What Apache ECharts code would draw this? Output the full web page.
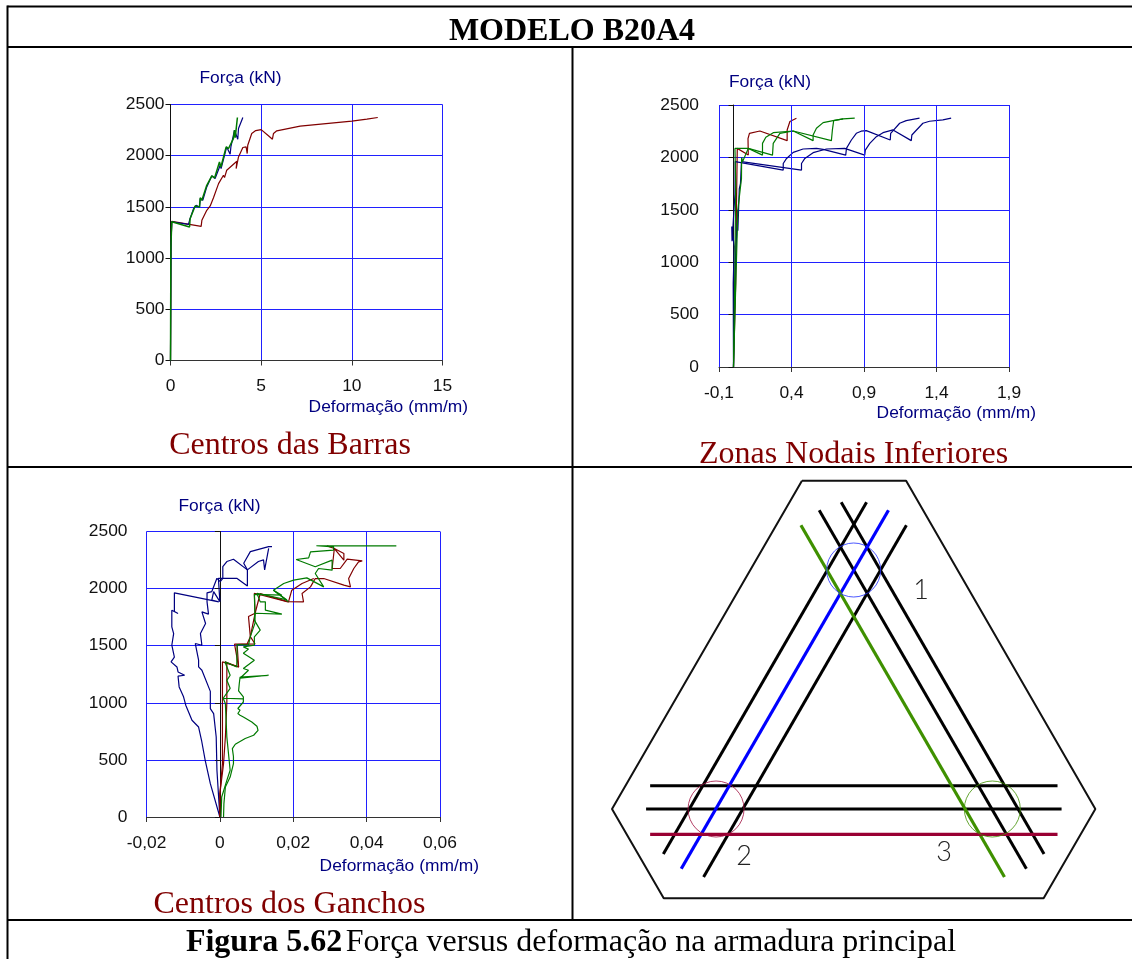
<!DOCTYPE html>
<html><head><meta charset="utf-8">
<style>html,body{margin:0;padding:0;background:#fff}#c{width:1132px;height:959px}</style>
<script src="https://cdn.jsdelivr.net/npm/echarts@6/dist/echarts.min.js"></script>
</head><body><div id="c"></div>
<script>
// Panel 1: Centros das Barras
const barrasRed=[[0,0],[.03,1150],[.07,1359],[1.69,1310],[1.73,1369],[2.0,1467],[2.19,1509],[2.28,1499],[2.37,1590],[2.41,1571],[2.65,1727],[2.92,1809],[2.98,1786],[3.1,1858],[3.66,1946],[3.62,1874],[3.75,1988],[3.99,2080],[4.17,2086],[4.23,2021],[4.26,2102],[4.48,2217],[4.7,2245],[5.0,2255],[5.4,2195],[5.62,2161],[5.68,2217],[5.86,2243],[7.15,2288],[10,2337],[10.83,2357],[11.43,2373]];
const barrasBlue=[[0,0],[.03,1150],[.07,1355],[.99,1330],[1.05,1369],[1.27,1483],[1.41,1516],[1.6,1499],[1.64,1581],[1.78,1565],[2.0,1695],[2.28,1803],[2.46,1777],[2.74,1907],[2.79,1874],[3.1,2086],[3.29,2014],[3.33,2086],[3.53,2249],[3.71,2161],[3.75,2265],[3.99,2373]];
const barrasGreen=[[0,0],[.02,1100],[.07,1355],[1.05,1304],[1.08,1385],[1.36,1509],[1.6,1499],[1.64,1590],[1.73,1565],[2.0,1711],[2.28,1803],[2.43,1783],[2.7,1939],[2.78,1890],[3.07,2086],[3.2,2070],[3.47,2167],[3.53,2249],[3.57,2177],[3.69,2373]];
// Panel 2: Zonas Nodais Inferiores
const nodaisRed=[[0,0],[.015,800],[.02,1500],[.026,2086],[.102,2022],[.1,2180],[.11,2230],[.182,2252],[.37,2160],[.37,2262],[.389,2342],[.434,2374]];
const nodaisGreenA=[[0,0],[.01,1000],[.015,1750],[.01,2086],[.102,2086],[.2,2022],[.2,2134],[.223,2192],[.274,2236],[.412,2252],[.549,2160],[.549,2214],[.572,2278],[.618,2332],[.687,2351],[.756,2368]];
const nodaisGreenB=[[0,0],[.02,1000],[.03,1500],[.055,1800],[.056,2000],[.063,1960],[.102,2086],[.269,2022],[.274,2134],[.32,2230],[.412,2252],[.675,2160],[.682,2262],[.691,2351],[.756,2368],[.836,2374]];
const nodaisBlueA=[[0,0],[-.002,800],[.005,1150],[-.012,1340],[-.01,1200],[.01,1650],[.012,1960],[.022,1958],[.343,1879],[.343,1942],[.366,1990],[.412,2048],[.48,2080],[.572,2086],[.618,2077],[.774,2022],[.779,2086],[.813,2166],[.847,2230],[.88,2250],[.916,2256],[1.081,2166],[1.084,2230],[1.146,2326],[1.191,2351],[1.283,2374]];
const nodaisBlueB=[[0,0],[.012,1000],[.03,1500],[.03,1300],[.04,1700],[.048,1750],[.055,1960],[.061,1958],[.469,1879],[.469,1942],[.492,1990],[.549,2045],[.641,2080],[.767,2086],[.905,2022],[.909,2070],[.94,2134],[.985,2198],[1.031,2236],[1.1,2262],[1.226,2160],[1.23,2214],[1.306,2326],[1.352,2345],[1.444,2358],[1.501,2374]];
// Panel 3: Centros dos Ganchos
const ganchosBlueA=[[0,0],[-.0026,292],[-.004,496],[-.005,672],[-.0058,788],[-.0076,847],[-.0093,979],[-.0099,1052],[-.0111,1139],[-.0114,1233],[-.0096,1241],[-.0114,1270],[-.0117,1314],[-.0133,1358],[-.0124,1400],[-.0131,1504],[-.0126,1606],[-.0131,1665],[-.0131,1811],[-.0114,1782],[-.0124,1800],[-.0124,1963],[-.0003,1884],[-.0022,1900],[-.0017,1974],[0,1886],[-.0004,2090],[.0046,2090],[.0075,2023],[.0075,2164],[.0065,2222],[.0083,2324],[.0133,2368],[.0142,2368]];
const ganchosBlueB=[[0,0],[-.0008,409],[-.001,701],[-.0017,905],[-.0026,949],[-.0026,1100],[-.003,1110],[-.0049,1285],[-.0058,1314],[-.0058,1373],[-.0067,1519],[-.0049,1504],[-.0053,1606],[-.0039,1694],[-.0049,1796],[-.0031,1776],[-.0035,1884],[-.0035,1963],[-.0022,1974],[-.0008,2090],[.0001,2061],[.0008,2090],[.0008,2193],[.0019,2237],[.0037,2257],[.0075,2164],[.0105,2237],[.0119,2251],[.0122,2164],[.0133,2353]];
const ganchosRedA=[[0,0],[0,204],[.001,467],[.0015,700],[.0019,1000],[.0019,1340],[.0014,1358],[.0051,1314],[.004,1513],[.0074,1513],[.0096,1515],[.0083,1579],[.0078,1755],[.0096,1784],[.0094,1959],[.0183,1886],[.0187,1884],[.0228,1884],[.0224,1957],[.0247,2015],[.026,2088],[.0283,2088],[.0338,2030],[.0356,2015],[.0351,2088],[.0365,2176],[.0378,2234],[.0388,2243],[.0347,2258],[.0328,2176],[.0306,2176],[.0312,2351],[.0338,2307],[.0338,2249],[.0312,2351],[.0292,2374]];
const ganchosRedB=[[0,0],[0,204],[.0007,467],[.0007,1358],[.0051,1314],[.0047,1510],[.0074,1513],[.0083,1579],[.0096,1784],[.011,1957],[.0187,1884],[.0196,1986],[.0224,2045],[.0256,2088]];
const ganchosGreenA=[[.001,0],[.0011,117],[.0015,263],[.0028,350],[.0037,467],[.0037,530],[.0034,599],[.0042,637],[.0069,687],[.0092,716],[.0104,759],[.0101,795],[.0087,832],[.0064,876],[.0055,891],[.0049,906],[.0055,935],[.0049,950],[.0064,1007],[.0064,1051],[.0051,1104],[.0053,1171],[.0055,1224],[.0133,1241],[.0055,1215],[.0078,1285],[.0064,1300],[.0094,1373],[.0064,1434],[.0078,1470],[.0064,1489],[.0094,1505],[.0094,1577],[.011,1636],[.0094,1724],[.0096,1784],[.0169,1776],[.0124,1811],[.0124,1884],[.011,1884],[.0101,1959],[.0183,1901],[.0146,1986],[.0151,2001],[.0174,2045],[.0201,2074],[.0237,2094],[.0283,2015],[.026,2132],[.0269,2176],[.0306,2161],[.0306,2249],[.026,2191],[.0208,2255],[.0242,2269],[.0247,2322],[.031,2337],[.031,2366],[.0263,2375],[.0481,2375]];
const ganchosGreenB=[[.0003,0],[.0005,175],[.0019,321],[.0028,409],[.0019,701],[.0015,993],[.0009,1040],[.0064,1035],[.0009,1040],[.0028,1127],[.0019,1197],[.0028,1241],[.0014,1358],[.0046,1314],[.0047,1510],[.0078,1506],[.0083,1579],[.0096,1700],[.0094,1950],[.0169,1942],[.0146,1986],[.0187,1884]];
// Panel 4: reinforcement layout (drawing units)
const outline=[[209,429.3],[311.7,429.3],[498.3,101],[447.3,11.7],[72.7,11.7],[21.7,101],[209,429.3]];
const blackBars=[[[272.7,407.7],[72.3,56]],[[312,384.7],[112,33]],[[247.7,407.7],[447.7,56]],[[226,399.7],[430.3,41.3]],[[59.3,124.3],[461,124.3]],[[55.3,101],[465,101]]];
const blueBar=[[294.3,399.7],[90,41.3]];
const greenBar=[[208,384.7],[408.7,33]];
const redBar=[[59.3,75.7],[461,75.7]];
const blueNode=[[260,340]], redNode=[[124.3,101]], greenNode=[[396.7,101]];
// Axis ticks
const yTicks=[0,500,1000,1500,2000,2500];
const xTicks1=[0,5,10,15];
const xTicks2=[-0.1,0.4,0.9,1.4,1.9];
const xTicks3=[-0.02,0,0.02,0.04,0.06];
// Labels
const labelY='Força (kN)', labelX='Deformação (mm/m)';
const panelTitles=['Centros das Barras','Zonas Nodais Inferiores','Centros dos Ganchos'];

const NAVY='#000080',MAROON='#800000',GREEN='#007a00',GRID='#2020ff',DARK='#800000';
const SANS='"Liberation Sans",Arial,sans-serif',SERIF='"Liberation Serif","Times New Roman",serif';
const FS=17.4;
const comma=v=>String(+v.toFixed(4)).replace('.',',');
function line(name,data,color,g,w){return {name,type:'line',xAxisIndex:g,yAxisIndex:g,data,showSymbol:false,symbol:'none',silent:true,animation:false,lineStyle:{color,width:w||1.2},z:3};}
function xAxis(g,min,max,interval,ticks,gap,pad,margin){
  const a={type:'value',gridIndex:g,min,max,name:labelX,nameLocation:'end',nameGap:gap,
    nameTextStyle:{color:NAVY,fontFamily:SANS,fontSize:FS,align:'right',verticalAlign:'top',padding:[pad,0,0,0]},
    axisLine:{onZero:false,lineStyle:{color:'#333',width:1}},axisTick:{length:5,lineStyle:{color:'#333'}},
    axisLabel:{color:'#111',fontFamily:SANS,fontSize:FS,margin,formatter:comma,showMinLabel:true,showMaxLabel:true},
    splitLine:{show:true,lineStyle:{color:GRID,width:1}}};
  if(interval){a.interval=interval;}else{
    a.interval=0.1;a.splitLine={show:false};
    a.axisLabel.customValues=ticks;a.axisTick.customValues=ticks;}
  return a;
}
function yAxisMain(g,pad,gap,margin,withLine){return {type:'value',gridIndex:g,min:0,max:2500,interval:500,position:'left',
  name:labelY,nameLocation:'end',nameGap:gap,
  nameTextStyle:{color:NAVY,fontFamily:SANS,fontSize:FS,align:'left',verticalAlign:'bottom',padding:[0,0,0,pad]},
  axisLine:{show:withLine,onZero:false,lineStyle:{color:'#111'}},axisTick:{show:withLine,length:5,lineStyle:{color:'#111'}},
  axisLabel:{color:'#111',fontFamily:SANS,fontSize:FS,margin,formatter:v=>String(v)},
  splitLine:{show:true,lineStyle:{color:GRID,width:1}}};}
function yAxisZero(g){return {type:'value',gridIndex:g,min:0,max:2500,interval:500,position:'left',
  axisLine:{show:true,onZero:true,lineStyle:{color:'#111'}},axisTick:{show:true,length:5,lineStyle:{color:'#111'}},
  axisLabel:{show:false},splitLine:{show:false},z:2};}
const series=[
 line('Barras vermelho',barrasRed,MAROON,0),line('Barras azul',barrasBlue,NAVY,0),line('Barras verde',barrasGreen,GREEN,0,1.5),
 line('Nodais vermelho',nodaisRed,MAROON,1),line('Nodais azul A',nodaisBlueA,NAVY,1),line('Nodais azul B',nodaisBlueB,NAVY,1),
 line('Nodais verde A',nodaisGreenA,GREEN,1),line('Nodais verde B',nodaisGreenB,GREEN,1),
 line('Ganchos azul A',ganchosBlueA,NAVY,2),line('Ganchos azul B',ganchosBlueB,NAVY,2),line('Ganchos vermelho A',ganchosRedA,MAROON,2),line('Ganchos vermelho B',ganchosRedB,MAROON,2),
 line('Ganchos verde A',ganchosGreenA,GREEN,2),line('Ganchos verde B',ganchosGreenB,GREEN,2)
];
// vertical grid lines of panel 2 sit at -0,1 + k*0,5
series.push({type:'line',xAxisIndex:1,yAxisIndex:1,data:[],silent:true,animation:false,
  markLine:{silent:true,animation:false,symbol:'none',label:{show:false},lineStyle:{color:GRID,width:1,type:'solid'},data:xTicks2.map(v=>({xAxis:v}))}});
// drawing panel
const DG=3;
series.push(line('Contorno',outline,'#111',DG,2));
blackBars.forEach((b,i)=>series.push(line('Barra '+(i+1),b,'#000',DG,3)));
series.push(line('Barra azul',blueBar,'#0000ff',DG,3.2));
series.push(line('Barra verde',greenBar,'#3f9000',DG,3.2));
series.push(line('Barra vermelha',redBar,'#990033',DG,3.2));
[[blueNode,'#2030ff',54],[redNode,'#a01040',56],[greenNode,'#3f9000',56]].forEach(([d,c,s])=>series.push({type:'scatter',xAxisIndex:DG,yAxisIndex:DG,data:d,symbol:'circle',symbolSize:s,silent:true,animation:false,itemStyle:{color:'transparent',borderColor:c,borderWidth:1},z:4}));

function rule(x1,y1,x2,y2){return {type:'line',silent:true,shape:{x1,y1,x2,y2},style:{stroke:'#000',lineWidth:2}};}
function bigText(text,cx,cy){return {type:'text',silent:true,style:{text,x:cx,y:cy,align:'center',verticalAlign:'middle',fill:DARK,font:'32px '+SERIF}};}
function digit(text,x,y){return {type:'text',silent:true,style:{text,x,y,align:'center',verticalAlign:'middle',fill:'#222',font:'300 27px Lato, "Open Sans", sans-serif'}};}
const option={
 backgroundColor:'#fff',animation:false,
 title:{text:'MODELO B20A4',left:567,top:11,textAlign:'center',textStyle:{fontFamily:SERIF,fontWeight:'bold',fontSize:32,color:'#000'}},
 grid:[
  {left:170.5,top:104.5,width:272,height:256},
  {left:719,top:105,width:290,height:262},
  {left:146.5,top:531.5,width:293.5,height:285.5},
  {left:590,top:470,width:537.5,height:440}
 ],
 xAxis:[
  xAxis(0,0,15,5,xTicks1,25.5,38,17),
  xAxis(1,-0.1,1.9,null,xTicks2,27,38,18),
  xAxis(2,-0.02,0.06,0.02,xTicks3,39,41,18),
  {type:'value',gridIndex:3,min:0,max:530,show:false}
 ],
 yAxis:[
  yAxisMain(0,29,18,6,true),
  yAxisMain(1,10,14,20,false),
  yAxisMain(2,32,17,19,false),
  {type:'value',gridIndex:3,min:0,max:440,show:false},
  yAxisZero(1),yAxisZero(2)
 ],
 series,
 graphic:{elements:[
  rule(7.5,6.5,1132,6.5),rule(7.5,5.5,7.5,959),rule(7.5,47,1132,47),rule(7.5,467,1132,467),rule(7.5,920,1132,920),rule(572.5,47,572.5,920),
  bigText(panelTitles[0],290,446),bigText(panelTitles[1],853.5,455),bigText(panelTitles[2],289.5,905),
  {type:'text',silent:true,style:{x:571,y:943,align:'center',verticalAlign:'middle',text:'{b|Figura 5.62} {n|Força versus deformação na armadura principal}',
    rich:{b:{font:'bold 32px '+SERIF,fill:'#000'},n:{font:'32px '+SERIF,fill:'#000'}}}},
  digit('1',921,590),digit('2',744,856),digit('3',944,852)
 ]}
};
const chart=echarts.init(document.getElementById('c'),null,{renderer:'canvas'});
chart.setOption(option);
</script></body></html>
